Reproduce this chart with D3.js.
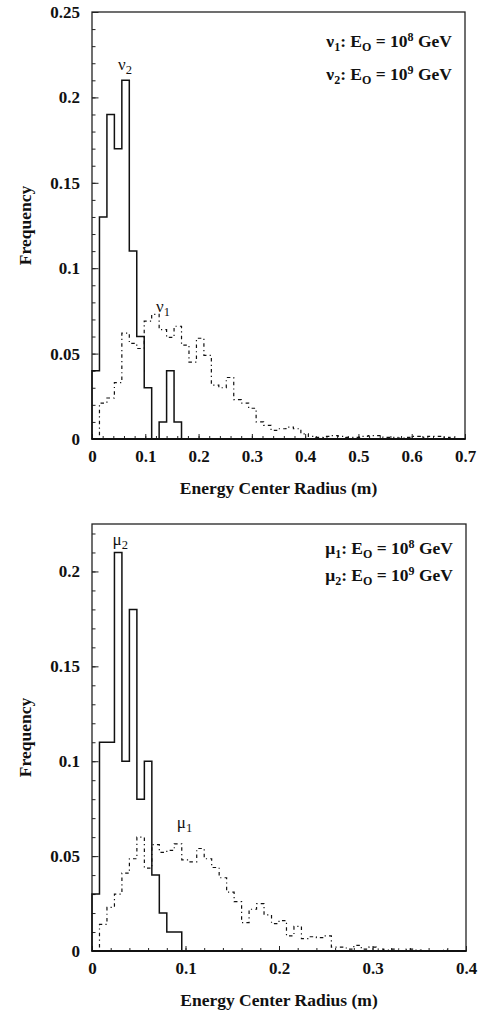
<!DOCTYPE html>
<html>
<head>
<meta charset="utf-8">
<script src="https://cdn.jsdelivr.net/npm/d3@7"></script>
<style>
  body { margin: 0; background: #fff; }
  svg { display: block; }
  .tick text { font-family: "Liberation Serif", "Times New Roman", serif; font-weight: bold; font-size: 17px; fill: #111; }
  .tick line { stroke: #222; stroke-width: 1; }
  .title { font-family: "Liberation Serif", "Times New Roman", serif; font-weight: bold; fill: #111; }
  .note { font-family: "Liberation Serif", "Times New Roman", serif; fill: #111; }
</style>
</head>
<body>
<svg width="491" height="1012"></svg>
<script>
// bin widths of the two histograms (50 bins each)
const nuBinWidth = 0.014
const muBinWidth = 0.008

// top panel: neutrino showers
const nu2 = [0.04, 0.13, 0.19, 0.17, 0.21, 0.11, 0.06, 0.03, 0, 0.01, 0.04, 0.01]
const nu1 = [0, 0.021, 0.024, 0.033, 0.062, 0.056, 0.053, 0.069, 0.073, 0.064,
             0.0595, 0.066, 0.055, 0.045, 0.059, 0.049, 0.0316, 0.030, 0.036, 0.023,
             0.021, 0.018, 0.010, 0.008, 0.005, 0.006, 0.007, 0.006, 0.003, 0.0015,
             0.001, 0.0015, 0.002, 0.0015, 0.001, 0.001, 0.0015, 0.002, 0.002, 0.001,
             0.001, 0.0005, 0.001, 0.0015, 0.001, 0.0015, 0.0015, 0.001, 0.0005, 0]

// bottom panel: muon showers
const mu2 = [0.03, 0.11, 0.11, 0.21, 0.10, 0.18, 0.08, 0.10, 0.04, 0.02, 0.01, 0.01]
const mu1 = [0, 0.014, 0.023, 0.030, 0.041, 0.0486, 0.060, 0.0437, 0.056, 0.052,
             0.053, 0.0565, 0.048, 0.047, 0.054, 0.0486, 0.044, 0.0386, 0.031, 0.026,
             0.015, 0.022, 0.025, 0.019, 0.0144, 0.016, 0.008, 0.013, 0.0065, 0.0075,
             0.007, 0.008, 0.002, 0.002, 0.001, 0.003, 0.001, 0.002, 0.001, 0.0005,
             0.001, 0, 0.001, 0.0005, 0, 0, 0, 0.0005, 0, 0]

// axis ticks
const nuXTicks = [0, 0.1, 0.2, 0.3, 0.4, 0.5, 0.6, 0.7]
const nuYTicks = [0, 0.05, 0.1, 0.15, 0.2, 0.25]
const muXTicks = [0, 0.1, 0.2, 0.3, 0.4]
const muYTicks = [0, 0.05, 0.1, 0.15, 0.2]

// curve labels [x, y] in data units
const nuLabels = [{ sym: "ν", sub: "2", at: [0.049, 0.216] }, { sym: "ν", sub: "1", at: [0.12, 0.0745] }]
const muLabels = [{ sym: "μ", sub: "2", at: [0.022, 0.214] }, { sym: "μ", sub: "1", at: [0.0907, 0.0646] }]

const svg = d3.select("svg")
svg.append("rect").attr("width", 491).attr("height", 1012).attr("fill", "#fff")

function steps(vals, w) {
  var pts = [[0, 0]]
  vals.forEach((v, i) => pts.push([i * w, v]))
  pts.push([vals.length * w, 0])
  return pts
}

function drawPanel(p) {
  const g = svg.append("g")
  const x = d3.scaleLinear().domain([0, p.xmax]).range([p.left, p.right])
  const y = d3.scaleLinear().domain([0, p.ymax]).range([p.bottom, p.top])

  // minor ticks
  g.append("g").attr("transform", `translate(${p.left},0)`)
    .call(d3.axisLeft(y).tickValues(d3.range(0, p.ymax + 1e-9, 0.01)).tickSize(-3.5).tickFormat(""))
  g.append("g").attr("transform", `translate(0,${p.bottom})`)
    .call(d3.axisBottom(x).tickValues(d3.range(0, p.xmax + 1e-9, 0.02)).tickSize(-3).tickFormat(""))
  // major ticks with labels
  g.append("g").attr("transform", `translate(${p.left},0)`)
    .call(d3.axisLeft(y).tickValues(p.yTicks).tickSize(-6.5).tickPadding(12).tickFormat(d => d3.format("")(+d.toFixed(2))))
  const xa = g.append("g").attr("transform", `translate(0,${p.bottom})`)
    .call(d3.axisBottom(x).tickValues(p.xTicks).tickSize(-5).tickPadding(0).tickFormat(d => d3.format("")(+d.toFixed(1))))
  xa.selectAll(".tick text").attr("y", 23).attr("dy", 0)
  g.selectAll(".domain").remove()

  // frame
  g.append("rect").attr("x", p.left).attr("y", p.top)
    .attr("width", p.right - p.left).attr("height", p.bottom - p.top)
    .attr("fill", "none").attr("stroke", "#222").attr("stroke-width", 1.3)
  g.append("line").attr("x1", p.left - 0.6).attr("x2", p.right + 0.6)
    .attr("y1", p.bottom).attr("y2", p.bottom)
    .attr("stroke", "#111").attr("stroke-width", 2.2)

  const line = d3.line().x(d => x(d[0])).y(d => y(d[1])).curve(d3.curveStepAfter)

  g.append("path").attr("d", line(steps(p.low, p.binW)))
    .attr("fill", "none").attr("stroke", "#111").attr("stroke-width", 1.2)
    .attr("stroke-dasharray", "3.5,3.2,1.2,3.2")
  g.append("path").attr("d", line(steps(p.high, p.binW)))
    .attr("fill", "none").attr("stroke", "#111").attr("stroke-width", 1.5)

  // curve labels
  p.labels.forEach(l => {
    const t = g.append("text").attr("class", "note").attr("font-size", 17)
      .attr("x", x(l.at[0])).attr("y", y(l.at[1]))
    t.append("tspan").text(l.sym)
    t.append("tspan").attr("font-size", 12.5).attr("dy", 4).text(l.sub)
  })

  // legend
  p.legend.forEach((sub, i) => {
    const t = g.append("text").attr("class", "title").attr("font-size", 17.5)
      .attr("text-anchor", "end").attr("x", p.right - 13).attr("y", p.legendY[i])
    t.append("tspan").text(p.sym)
    t.append("tspan").attr("font-size", 12).attr("dy", 3.5).text(sub[0])
    t.append("tspan").attr("dy", -3.5).text(": E")
    t.append("tspan").attr("font-size", 12).attr("dy", 3.5).text("O")
    t.append("tspan").attr("dy", -3.5).text(" = 10")
    t.append("tspan").attr("font-size", 12).attr("dy", -6.5).text(sub[1])
    t.append("tspan").attr("dy", 6.5).text(" GeV")
  })

  // axis titles
  g.append("text").attr("class", "title").attr("font-size", 17.5)
    .attr("text-anchor", "middle").attr("x", (p.left + p.right) / 2).attr("y", p.bottom + 55)
    .text("Energy Center Radius (m)")
  g.append("text").attr("class", "title").attr("font-size", 17.5)
    .attr("text-anchor", "middle")
    .attr("transform", `translate(31,${(p.top + p.bottom) / 2}) rotate(-90)`)
    .text("Frequency")
}

drawPanel({
  left: 92, right: 465, top: 12, bottom: 439,
  xmax: 0.7, ymax: 0.25, xTicks: nuXTicks, yTicks: nuYTicks,
  binW: nuBinWidth, low: nu1, high: nu2, labels: nuLabels,
  sym: "ν", legend: [["1", "8"], ["2", "9"]], legendY: [47, 80]
})

drawPanel({
  left: 92, right: 466, top: 524, bottom: 951,
  xmax: 0.4, ymax: 0.225, xTicks: muXTicks, yTicks: muYTicks,
  binW: muBinWidth, low: mu1, high: mu2, labels: muLabels,
  sym: "μ", legend: [["1", "8"], ["2", "9"]], legendY: [554, 581]
})
</script>
</body>
</html>
